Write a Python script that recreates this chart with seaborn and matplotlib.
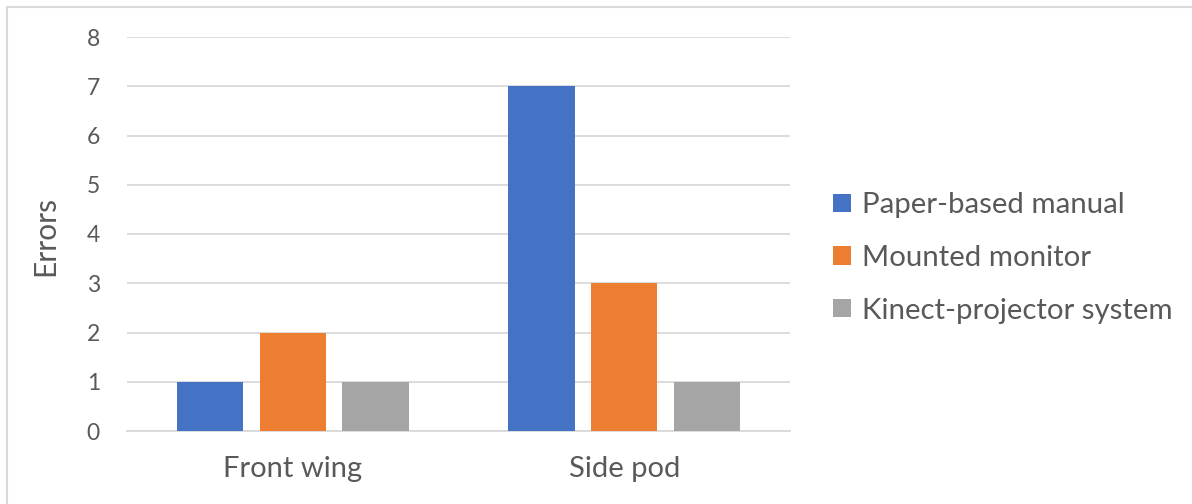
import matplotlib
matplotlib.use("Agg")
import matplotlib.pyplot as plt
from matplotlib.lines import Line2D
from matplotlib.patches import Patch
import seaborn as sns
import pandas as pd

parts = ["Front wing", "Side pod"]
methods = ["Paper-based manual", "Mounted monitor", "Kinect-projector system"]
paper_errors = [1, 7]
monitor_errors = [2, 3]
kinect_errors = [1, 1]
colors = ["#4472C4", "#ED7D31", "#A5A5A5"]
yticks = [0, 1, 2, 3, 4, 5, 6, 7, 8]

rows = []
for method, vals in zip(methods, [paper_errors, monitor_errors, kinect_errors]):
    for part, v in zip(parts, vals):
        rows.append({"Part": part, "Method": method, "Errors": v})
df = pd.DataFrame(rows)

sns.set_theme(style="white")
plt.rcParams["font.family"] = ["Lato", "DejaVu Sans"]

text_color = "#595959"
grid_color = "#D9D9D9"

fig = plt.figure(figsize=(11.92, 5.04), dpi=100)
ax = fig.add_axes([127 / 1192, 73 / 504, 663 / 1192, 394 / 504])

sns.barplot(data=df, x="Part", y="Errors", hue="Method", hue_order=methods,
            palette=colors, width=0.75, gap=0.2, saturation=1,
            errorbar=None, ax=ax, legend=False, zorder=3,
            linewidth=0, edgecolor="none")

ax.set_xlim(-0.5, 1.5)
ax.set_ylim(0, 8)
ax.set_yticks(yticks)
ax.yaxis.grid(True, color=grid_color, linewidth=1.3, zorder=0)
ax.set_axisbelow(True)
for s in ["top", "right", "left"]:
    ax.spines[s].set_visible(False)
ax.spines["bottom"].set_color(grid_color)
ax.spines["bottom"].set_linewidth(1.3)
ax.tick_params(axis="both", length=0, colors=text_color)
ax.tick_params(axis="y", labelsize=16.5, pad=19.5)
ax.tick_params(axis="x", labelsize=21, pad=18)
ax.set_xlabel("")
ax.set_ylabel("Errors", fontsize=21.5, color=text_color)
ax.yaxis.set_label_coords(-0.102, 0.494)

handles = [Patch(facecolor=c, edgecolor="none") for c in colors]
fig.legend(handles, methods, loc="center left",
           bbox_to_anchor=(833 / 1192, 1 - 258 / 504), frameon=False,
           fontsize=21.2, labelcolor=text_color, handlelength=0.6,
           handleheight=0.6, handletextpad=0.4, labelspacing=0.9,
           borderpad=0, borderaxespad=0)

# chart area border (left and top edges)
fig.add_artist(Line2D([7 / 1192, 7 / 1192], [0, 1 - 7 / 504],
                      transform=fig.transFigure, color=grid_color, lw=1.5))
fig.add_artist(Line2D([7 / 1192, 1], [1 - 7 / 504, 1 - 7 / 504],
                      transform=fig.transFigure, color=grid_color, lw=1.5))

fig.savefig("out.png", dpi=100, facecolor="white")
